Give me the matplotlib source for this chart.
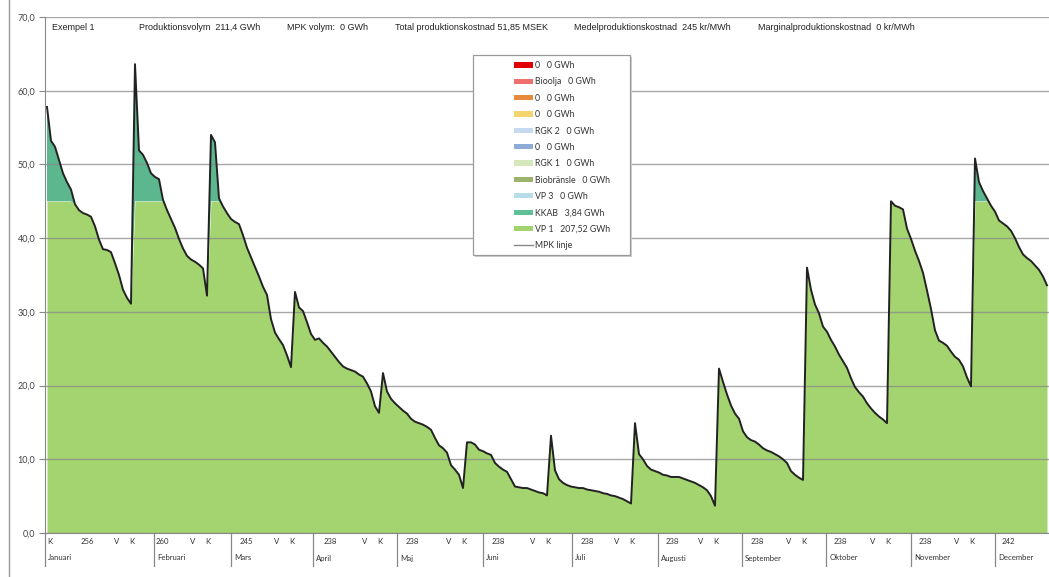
import numpy as np
import matplotlib
matplotlib.use("Agg")
import matplotlib.pyplot as plt
from matplotlib.patches import Patch, Rectangle
from matplotlib.lines import Line2D
from matplotlib.ticker import FuncFormatter, MultipleLocator
import matplotlib.transforms as mtransforms

# ---------------- data ----------------
seg_jan = [57.8, 53.2, 52.4, 50.6, 48.8, 47.6, 46.6, 44.6, 43.8, 43.4, 43.2, 42.9,
           41.6, 39.8, 38.5, 38.4, 38.1, 36.6, 35.0, 33.0, 31.9, 31.1]
seg_feb = [63.6, 51.9, 51.3, 50.2, 48.8, 48.3, 48.0, 45.2, 43.8, 42.6, 41.4, 39.9,
           38.6, 37.6, 37.1, 36.8, 36.4, 35.9, 32.2]
seg_mar = [54.0, 53.0, 45.4, 44.3, 43.4, 42.6, 42.2, 41.9, 40.4, 38.7, 37.4, 36.1,
           34.8, 33.4, 32.3, 29.0, 27.2, 26.3, 25.5, 24.1, 22.5]
seg_apr = [32.7, 30.6, 30.1, 28.6, 27.0, 26.2, 26.4, 25.8, 25.3, 24.6, 23.9, 23.2,
           22.6, 22.3, 22.1, 21.9, 21.5, 21.2, 20.3, 19.2, 17.2, 16.3]
seg_maj = [21.7, 19.2, 18.2, 17.6, 17.1, 16.6, 16.2, 15.5, 15.1, 14.9, 14.7, 14.4,
           14.0, 12.9, 11.9, 11.5, 10.9, 9.2, 8.6, 7.9, 6.1]
seg_jun = [12.3, 12.3, 12.0, 11.3, 11.1, 10.8, 10.6, 9.5, 9.0, 8.6, 8.3, 7.3,
           6.3, 6.2, 6.1, 6.1, 5.9, 5.7, 5.5, 5.4, 5.1]
seg_jul = [13.2, 8.5, 7.3, 6.8, 6.5, 6.3, 6.2, 6.1, 6.1, 5.9, 5.8, 5.7,
           5.6, 5.4, 5.3, 5.1, 5.0, 4.8, 4.6, 4.3, 4.0]
seg_aug = [14.9, 10.7, 10.0, 9.1, 8.6, 8.4, 8.2, 7.9, 7.8, 7.6, 7.6, 7.6,
           7.4, 7.2, 7.0, 6.8, 6.5, 6.2, 5.8, 5.0, 3.7]
seg_sep = [22.3, 20.5, 18.8, 17.3, 16.2, 15.5, 13.8, 13.0, 12.6, 12.4, 12.0, 11.5,
           11.2, 11.0, 10.7, 10.4, 10.0, 9.5, 8.4, 7.9, 7.5, 7.2]
seg_okt = [36.0, 33.0, 31.0, 29.8, 28.0, 27.3, 26.2, 25.3, 24.2, 23.3, 22.4, 21.0,
           19.8, 19.1, 18.5, 17.6, 16.9, 16.3, 15.8, 15.4, 14.9]
seg_nov = [45.0, 44.4, 44.2, 43.9, 41.3, 39.9, 38.3, 36.9, 35.3, 32.9, 30.4, 27.5,
           26.1, 25.8, 25.4, 24.6, 23.9, 23.5, 22.6, 21.1, 19.9]
seg_dec = [50.8, 47.6, 46.4, 45.4, 44.4, 43.6, 42.4, 42.0, 41.6, 41.0, 40.0, 38.8,
           37.8, 37.3, 36.9, 36.3, 35.7, 34.8, 33.6]

vp1_capacity = 45.0

months = ["Januari", "Februari", "Mars", "April", "Maj", "Juni", "Juli",
          "Augusti", "September", "Oktober", "November", "December"]
month_numbers = ["256", "260", "245", "238", "238", "238", "238", "238",
                 "238", "238", "238", "242"]

legend_labels = ["0   0 GWh", "Bioolja   0 GWh", "0   0 GWh", "0   0 GWh",
                 "RGK 2   0 GWh", "0   0 GWh", "RGK 1   0 GWh", "Biobr\u00e4nsle   0 GWh",
                 "VP 3   0 GWh", "KKAB   3,84 GWh", "VP 1   207,52 GWh", "MPK linje"]
legend_colors = ["#e00000", "#ef6f6f", "#e8893c", "#f6d46c", "#c6d9f1", "#8eaad6",
                 "#d6e7bb", "#9db36c", "#b6dde8", "#5fbf96", "#a3d36f"]

header = [("Exempel 1", 52), ("Produktionsvolym  211,4 GWh", 139),
          ("MPK volym:  0 GWh", 287), ("Total produktionskostnad 51,85 MSEK", 395),
          ("Medelproduktionskostnad  245 kr/MWh", 574),
          ("Marginalproduktionskostnad  0 kr/MWh", 758)]

segments = [seg_jan, seg_feb, seg_mar, seg_apr, seg_maj, seg_jun, seg_jul,
            seg_aug, seg_sep, seg_okt, seg_nov, seg_dec]
load = np.concatenate([np.array(s, dtype=float) for s in segments])
x = np.arange(len(load))
seg_starts = np.cumsum([0] + [len(s) for s in segments[:-1]])

vp1 = np.minimum(load, vp1_capacity)

# layout (index units) for category-axis separators and labels
month_bounds = [-0.5, 26.75, 46.0, 66.5, 87.5, 109.0, 131.25, 152.75, 173.75,
                194.75, 216.0, 237.0]
num_pos = [10.0, 28.75, 49.75, 70.75, 91.25, 112.75, 135.0, 156.25, 177.5,
           198.25, 219.5, 240.25]

# ---------------- figure ----------------
W, H = 1049, 577
fig = plt.figure(figsize=(W / 100, H / 100), dpi=100)
ax = fig.add_axes([45 / W, (H - 533) / H, 1 - 45 / W, (533 - 17) / H])

fam = ["Lato", "DejaVu Sans"]

ax.fill_between(x, 0, vp1, color="#a3d46f", lw=0, zorder=1)
ax.fill_between(x, vp1, load, where=load > vp1_capacity - 1e-9, interpolate=True,
                color="#5cb68e", lw=0, zorder=1)
ax.plot(x, load, color="#222222", lw=1.4, zorder=3)

ax.set_xlim(-0.5, len(load) - 0.5)
ax.set_ylim(0, 70)
ax.yaxis.set_major_locator(MultipleLocator(10))
ax.yaxis.set_major_formatter(FuncFormatter(lambda v, p: f"{v:.1f}".replace(".", ",")))
ax.set_axisbelow(False)
ax.grid(axis="y", color="#8a8a8a", lw=1.0, alpha=0.75)
ax.set_xticks([])
ax.tick_params(axis="y", length=4, width=0.8, color="#888888", labelsize=6.5,
               labelcolor="#444444", pad=3)
for lab in ax.get_yticklabels():
    lab.set_family(fam)
for s in ["top", "right"]:
    ax.spines[s].set_visible(False)
ax.spines["left"].set_color("#888888")
ax.spines["bottom"].set_color("#888888")
ax.spines["left"].set_zorder(4)

# category axis below
trans = mtransforms.blended_transform_factory(ax.transData, ax.transAxes)
row1 = -8 / 516
row2 = -25 / 516
sep_bottom = -33 / 516
lab_kw = dict(transform=trans, fontsize=5.6, color="#333333", va="center", family=fam)
for i, m in enumerate(months):
    b = month_bounds[i]
    ax.plot([b, b], [0, sep_bottom], transform=trans, color="#888888", lw=0.9,
            clip_on=False, zorder=4)
    ax.text(b + 0.8, row2, m, ha="left", **lab_kw)
    ax.text(num_pos[i], row1, month_numbers[i], ha="center", **lab_kw)
ax.text(seg_starts[0] + 0.8, row1, "K", ha="center", **lab_kw)
for st in seg_starts[1:]:
    ax.text(st - 0.8, row1, "K", ha="center", **lab_kw)
    ax.text(st - 4.6, row1, "V", ha="center", **lab_kw)

# header texts
for txt, px in header:
    fig.text(px / W, 1 - 27 / H, txt, fontsize=6.5, color="#222222",
             ha="left", va="center", family=["Liberation Sans", "DejaVu Sans"])

# outer frame line on the left
fig.add_artist(Line2D([8.5 / W, 8.5 / W], [0, 1], color="#999999", lw=1.0))

# legend box
bx0, by0, bw, bh = 473 / W, 1 - 255 / H, 157 / W, 200 / H
fig.add_artist(Rectangle((bx0 + 2 / W, by0 - 2 / H), bw, bh, transform=fig.transFigure,
                         facecolor="#d0d0d0", edgecolor="none", zorder=5))
fig.add_artist(Rectangle((bx0, by0), bw, bh, transform=fig.transFigure,
                         facecolor="white", edgecolor="#9a9a9a", lw=0.9, zorder=6))
handles = [Patch(facecolor=c, edgecolor="none") for c in legend_colors]
handles.append(Line2D([0], [0], color="#888888", lw=1.0))
leg = fig.legend(handles, legend_labels, loc="upper left",
                 bbox_to_anchor=(508 / W, 1 - 55 / H), frameon=False,
                 prop={"family": fam, "size": 6.3}, labelspacing=0.84,
                 handlelength=2.1, handleheight=0.55, handletextpad=0.3,
                 borderpad=0.2, labelcolor="#333333")
leg.set_zorder(7)

fig.savefig("out.png", dpi=100)
